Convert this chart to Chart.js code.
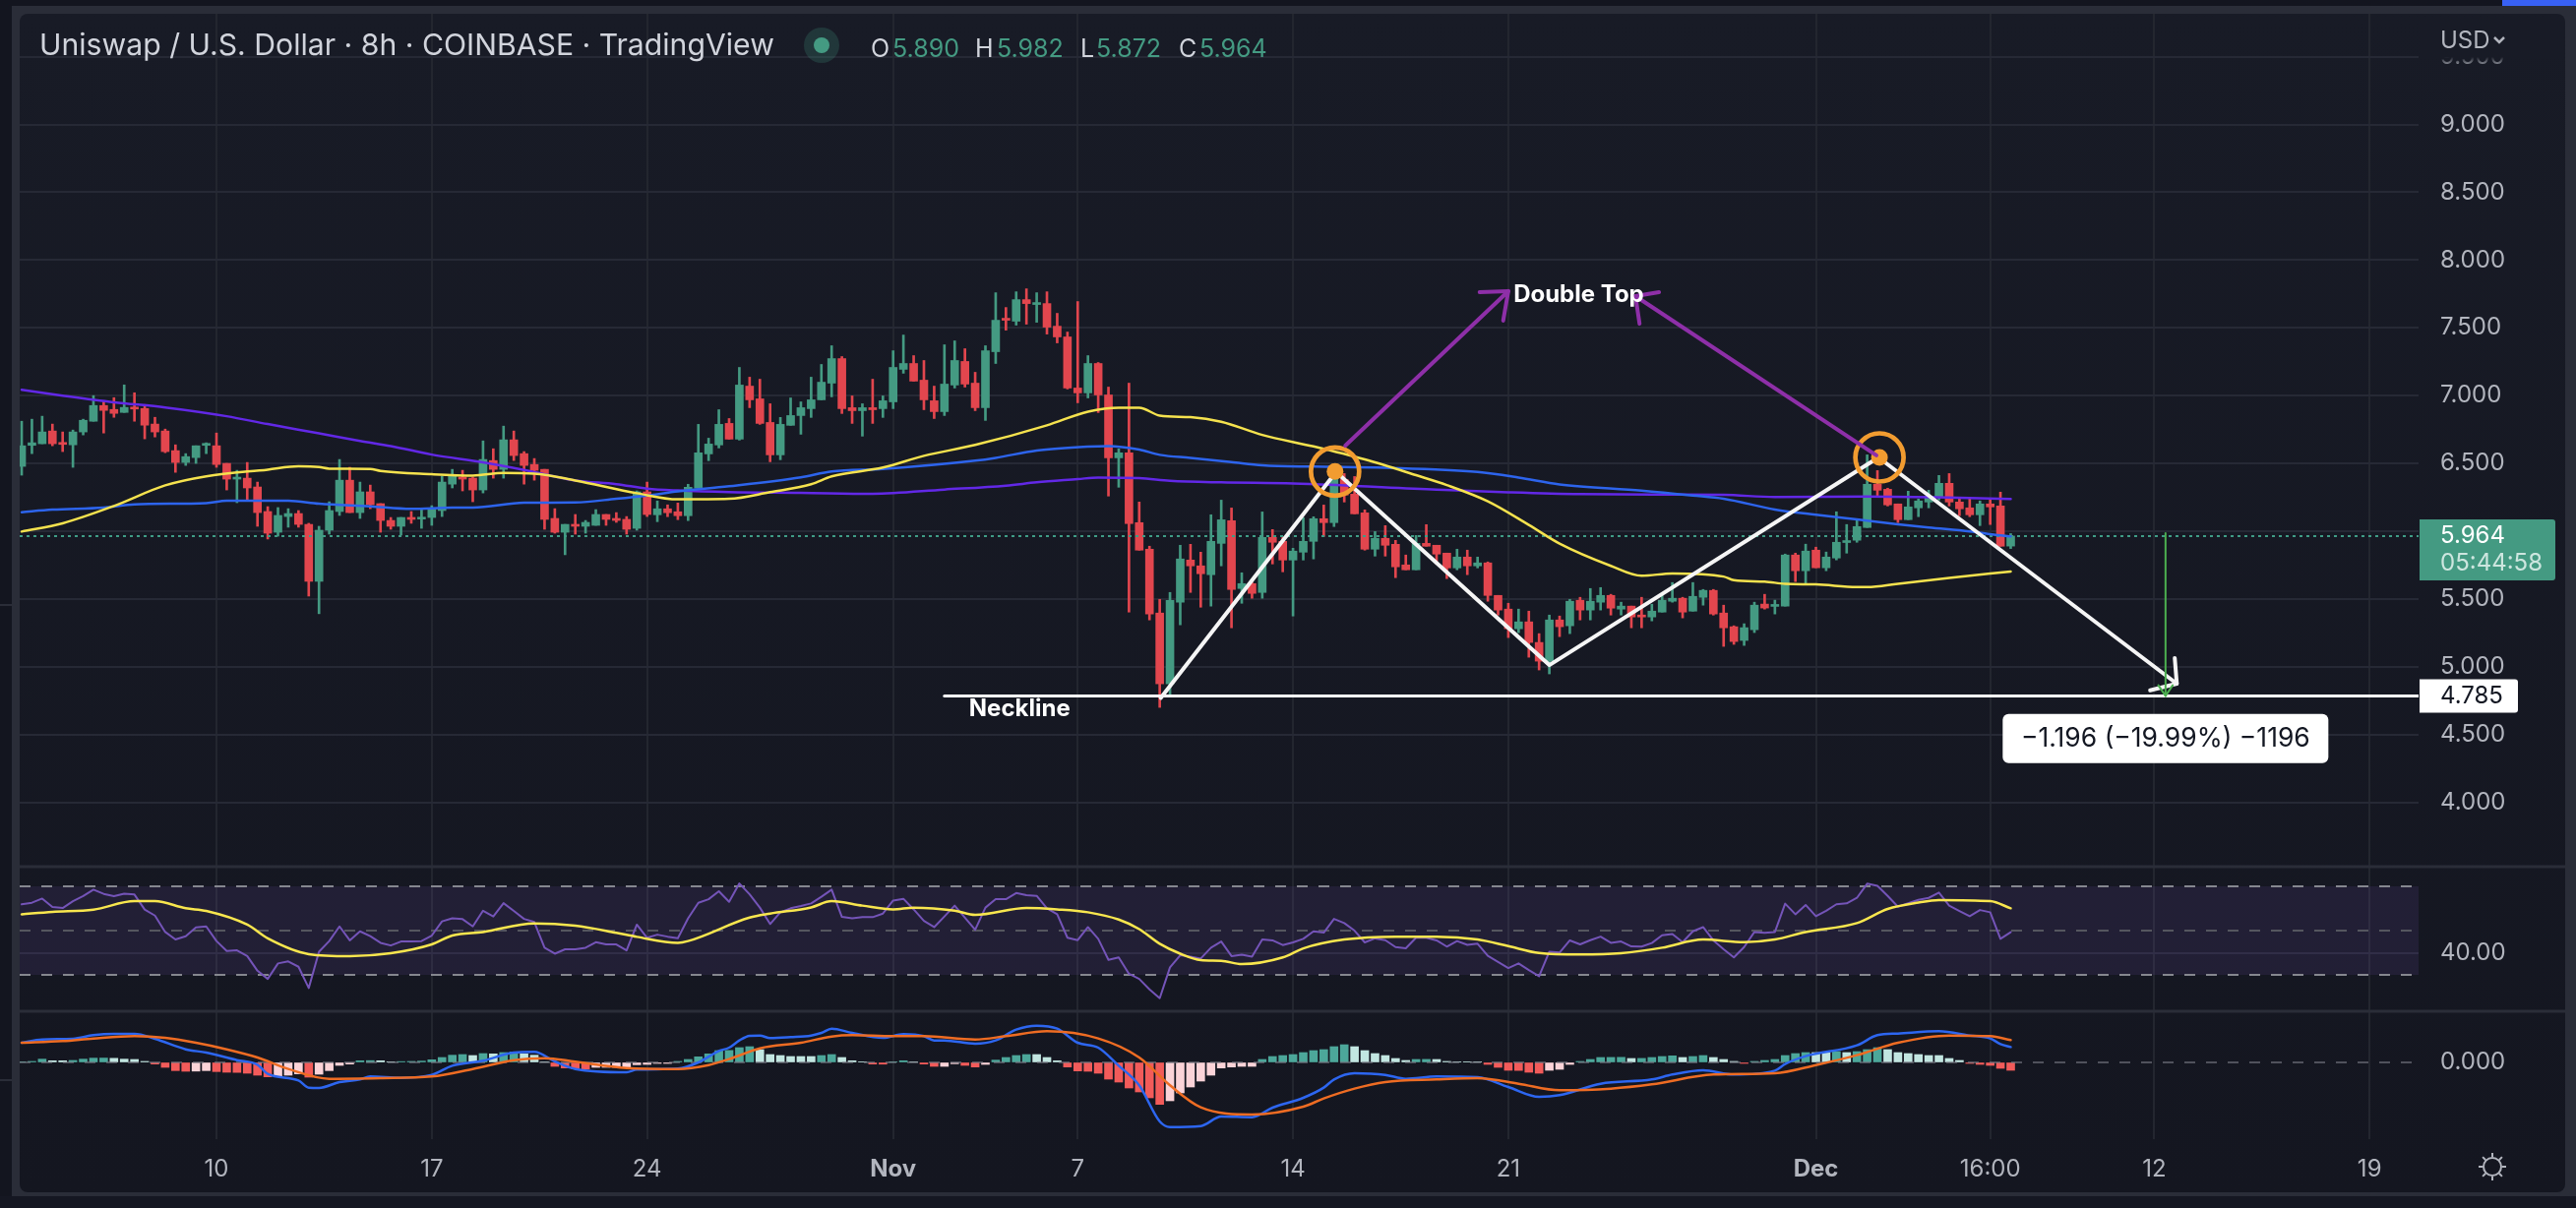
<!DOCTYPE html>
<html>
<head>
<meta charset="utf-8">
<title>Uniswap / U.S. Dollar</title>
<script src="https://cdn.jsdelivr.net/npm/chart.js@4"></script>
<style>
  html, body { margin: 0; padding: 0; background: #141620; }
  canvas { display: block; }
</style>
</head>
<body>
<canvas id="chart" width="2618" height="1228"></canvas>
<script>
/* CANDLES (8h bars, position in the array = bar number) */
const opens = [6.478,6.633,6.645,6.739,6.652,6.637,6.732,6.811,6.927,6.898,
6.876,6.913,6.905,6.790,6.739,6.594,6.507,6.543,6.633,6.630,
6.500,6.384,6.391,6.326,6.145,5.992,6.108,6.130,6.050,5.630,
6.007,6.145,6.376,6.137,6.290,6.203,6.079,6.036,6.101,6.089,
6.101,6.152,6.347,6.398,6.391,6.304,6.521,6.456,6.674,6.572,
6.492,6.456,6.094,5.992,6.050,6.036,6.043,6.123,6.094,6.087,
6.021,6.290,6.121,6.165,6.143,6.114,6.317,6.570,6.636,6.795,
6.679,7.070,6.976,6.802,6.563,6.781,6.853,6.904,6.969,7.092,
7.273,6.911,6.889,6.911,6.904,6.954,7.194,7.237,7.114,6.962,
6.882,7.078,7.252,7.092,6.911,7.324,7.563,7.549,7.708,7.672,
7.679,7.512,7.433,7.056,7.020,7.237,7.005,6.541,6.578,6.063,
5.867,5.396,4.874,5.476,5.787,5.744,5.679,5.910,6.077,5.577,
5.613,5.548,5.954,5.925,5.787,5.845,5.925,6.092,6.063,6.381,
6.273,6.135,5.867,5.947,5.903,5.751,5.715,5.910,5.896,5.838,
5.729,5.809,5.744,5.766,5.526,5.425,5.280,5.331,5.179,5.041,
5.345,5.302,5.490,5.418,5.476,5.526,5.425,5.447,5.374,5.367,
5.403,5.483,5.505,5.410,5.512,5.563,5.396,5.295,5.194,5.273,
5.462,5.445,5.447,5.824,5.708,5.860,5.730,5.802,5.916,5.933,
6.027,6.346,6.309,6.201,6.085,6.172,6.215,6.252,6.353,6.215,
6.172,6.121,6.201,6.186,5.890];
const highs = [6.811,6.826,6.848,6.790,6.732,6.746,6.826,7.000,6.963,6.985,
7.079,7.021,6.934,6.840,6.753,6.637,6.572,6.630,6.652,6.724,
6.500,6.449,6.507,6.362,6.181,6.174,6.166,6.152,6.058,6.036,
6.217,6.529,6.471,6.362,6.340,6.203,6.101,6.101,6.145,6.166,
6.188,6.405,6.456,6.449,6.398,6.666,6.608,6.775,6.739,6.587,
6.536,6.456,6.166,6.050,6.123,6.079,6.159,6.123,6.137,6.108,
6.297,6.362,6.223,6.194,6.208,6.346,6.788,6.686,6.896,6.831,
7.208,7.136,7.121,6.940,6.839,6.983,6.954,7.136,7.230,7.368,
7.288,6.998,6.940,7.121,6.998,7.331,7.447,7.295,7.259,7.070,
7.375,7.404,7.346,7.172,7.368,7.759,7.650,7.766,7.788,7.759,
7.766,7.607,7.469,7.694,7.295,7.244,7.063,6.607,7.092,6.215,
5.889,5.497,5.548,5.896,5.903,5.845,6.121,6.229,6.171,5.693,
5.621,6.142,6.012,5.954,5.874,6.099,6.106,6.193,6.497,6.425,
6.403,6.157,5.997,6.041,5.932,5.824,5.968,6.048,5.896,5.838,
5.867,5.860,5.809,5.773,5.526,5.468,5.425,5.410,5.244,5.381,
5.374,5.497,5.512,5.577,5.584,5.534,5.476,5.447,5.512,5.461,
5.541,5.621,5.512,5.621,5.570,5.570,5.454,5.302,5.317,5.476,
5.534,5.491,5.831,5.838,5.904,5.882,5.846,6.143,6.049,6.085,
6.563,6.447,6.317,6.201,6.295,6.237,6.302,6.411,6.425,6.244,
6.237,6.223,6.237,6.288,5.982];
const lows = [6.413,6.572,6.645,6.630,6.587,6.471,6.710,6.811,6.724,6.840,
6.876,6.811,6.681,6.695,6.579,6.434,6.485,6.500,6.572,6.471,
6.304,6.210,6.232,6.036,5.942,5.963,6.029,6.029,5.521,5.391,
5.978,6.116,6.137,6.094,6.166,5.992,6.014,5.971,6.058,6.021,
6.043,6.108,6.319,6.297,6.217,6.282,6.391,6.391,6.521,6.347,
6.376,6.014,5.985,5.826,5.978,5.985,6.043,6.043,6.065,5.978,
6.007,6.108,6.070,6.107,6.085,6.078,6.317,6.520,6.614,6.679,
6.672,6.911,6.788,6.512,6.527,6.781,6.715,6.839,6.969,6.991,
6.868,6.795,6.701,6.795,6.839,6.904,7.165,7.107,6.896,6.831,
6.853,7.056,7.063,6.889,6.817,7.237,7.483,7.520,7.527,7.541,
7.454,7.389,7.049,6.947,6.983,6.875,6.259,6.324,5.403,5.860,
5.345,4.700,4.795,5.309,5.548,5.439,5.447,5.744,5.287,5.468,
5.505,5.505,5.758,5.700,5.374,5.787,5.795,5.961,6.034,6.215,
6.128,5.860,5.816,5.816,5.657,5.715,5.715,5.889,5.758,5.650,
5.715,5.679,5.729,5.483,5.381,5.215,5.251,5.070,4.976,4.947,
5.222,5.244,5.345,5.345,5.418,5.381,5.381,5.287,5.287,5.338,
5.403,5.476,5.360,5.410,5.454,5.381,5.150,5.165,5.157,5.252,
5.425,5.389,5.447,5.628,5.614,5.730,5.708,5.788,5.838,5.918,
6.027,6.259,6.186,6.063,6.085,6.107,6.172,6.230,6.186,6.114,
6.107,6.041,6.049,5.889,5.872];
const closes = [6.630,6.652,6.732,6.645,6.640,6.732,6.818,6.927,6.891,6.869,
6.913,6.901,6.782,6.732,6.587,6.507,6.550,6.630,6.642,6.492,
6.384,6.393,6.319,6.137,5.985,6.116,6.130,6.050,5.630,6.007,
6.152,6.376,6.137,6.290,6.195,6.079,6.036,6.101,6.087,6.101,
6.161,6.362,6.405,6.384,6.304,6.529,6.456,6.674,6.558,6.485,
6.449,6.087,5.992,6.050,6.036,6.065,6.123,6.087,6.079,6.014,
6.290,6.123,6.165,6.136,6.114,6.324,6.578,6.643,6.788,6.679,
7.078,6.969,6.795,6.563,6.788,6.853,6.911,6.969,7.099,7.273,
6.904,6.889,6.911,6.896,6.962,7.208,7.237,7.107,6.969,6.882,
7.085,7.259,7.085,6.911,7.331,7.556,7.556,7.708,7.679,7.679,
7.505,7.433,7.056,7.020,7.237,7.005,6.541,6.578,6.056,5.860,
5.389,4.874,5.490,5.795,5.744,5.686,5.925,6.084,5.570,5.613,
5.541,5.954,5.918,5.787,5.853,5.925,6.092,6.063,6.444,6.266,
6.128,5.867,5.947,5.896,5.737,5.715,5.910,5.889,5.831,5.729,
5.809,5.744,5.766,5.526,5.418,5.280,5.331,5.179,5.041,5.345,
5.295,5.483,5.418,5.483,5.526,5.432,5.447,5.367,5.367,5.410,
5.490,5.505,5.403,5.519,5.563,5.389,5.287,5.186,5.288,5.454,
5.433,5.454,5.824,5.708,5.853,5.730,5.809,5.918,5.930,6.034,
6.346,6.302,6.194,6.085,6.179,6.223,6.259,6.353,6.215,6.165,
6.121,6.201,6.179,5.889,5.964];

/* MOVING AVERAGES (read at these bars) */
const maYellowBars = [0,4,9,14,18,24,27,29,30,34,35,40,44,47,50,54,60,64,69,73,77,79,84,88,93,100,104,107,109,111,114,117,121,126,131,136,139,143,147,150,155,158,161,166,167,170,172,175,179,180,183,188,194];
const maYellow = [5.997,6.058,6.186,6.338,6.405,6.454,6.478,6.473,6.461,6.459,6.444,6.420,6.410,6.430,6.425,6.374,6.280,6.235,6.239,6.288,6.346,6.404,6.469,6.556,6.636,6.781,6.882,6.911,6.911,6.853,6.841,6.807,6.710,6.625,6.529,6.413,6.340,6.220,6.046,5.908,5.744,5.671,5.688,5.665,5.638,5.628,5.611,5.607,5.587,5.587,5.611,5.655,5.703];
const maBlueBars = [0,3,8,11,18,20,26,29,34,38,42,44,49,54,58,61,64,69,76,79,84,93,95,99,104,106,109,111,114,118,121,126,133,142,146,150,158,163,166,171,175,179,183,186,190,193,194];
const maBlue = [6.140,6.159,6.174,6.198,6.207,6.224,6.224,6.203,6.183,6.164,6.174,6.174,6.210,6.212,6.239,6.263,6.293,6.331,6.397,6.440,6.459,6.520,6.541,6.595,6.624,6.628,6.602,6.563,6.541,6.510,6.486,6.476,6.468,6.437,6.396,6.345,6.299,6.263,6.239,6.160,6.121,6.087,6.051,6.027,5.998,5.969,5.962];
const maPurpleBars = [0,4,9,14,20,24,29,33,36,40,45,49,54,58,61,64,69,76,83,90,96,99,103,105,109,112,117,124,138,145,152,160,166,171,180,188,194];
const maPurple = [7.043,7.000,6.951,6.913,6.848,6.790,6.722,6.666,6.628,6.565,6.507,6.451,6.374,6.347,6.314,6.300,6.288,6.283,6.276,6.307,6.336,6.360,6.384,6.396,6.392,6.372,6.360,6.352,6.307,6.287,6.273,6.270,6.268,6.252,6.256,6.249,6.237];

/* RSI */
const rsi = [61.9,62.6,64.5,60.7,60.2,63.3,65.6,68.5,66.6,65.6,66.7,66.3,59.5,56.8,49.4,46.0,47.5,51.5,51.9,45.3,
40.8,41.1,38.5,31.9,28.2,35.2,36.1,33.7,24.1,40.5,45.3,51.9,45.6,49.7,47.5,44.5,43.3,45.1,45.1,45.3,
47.8,54.2,55.6,55.2,51.9,59.0,56.4,62.4,58.9,55.3,53.9,42.3,39.6,41.6,41.6,42.3,44.8,43.8,43.8,41.1,
52.7,46.8,48.2,47.3,46.6,55.6,62.6,64.2,67.8,63.0,71.3,66.4,60.4,53.0,58.3,60.1,61.1,62.3,65.3,68.5,
56.2,55.6,56.1,56.1,57.7,63.6,64.4,59.6,54.4,51.6,56.4,61.3,55.9,50.4,60.4,64.2,64.2,67.0,66.0,65.7,
60.1,57.4,46.8,45.7,51.6,46.3,36.8,37.9,30.5,28.2,23.5,19.5,33.4,38.9,38.3,37.4,42.3,45.1,38.5,39.1,
38.3,46.0,45.6,43.5,44.7,46.3,49.7,49.1,55.3,53.4,50.0,44.7,46.5,45.7,42.6,42.0,46.8,46.8,45.6,42.8,
45.3,43.6,44.1,38.6,35.9,33.1,35.2,32.2,29.4,40.5,40.1,45.6,43.8,45.7,47.3,44.5,45.1,42.9,42.8,44.4,
47.9,48.5,44.8,49.7,51.6,45.6,41.6,37.9,42.6,49.4,49.0,49.4,62.2,57.4,61.6,56.5,59.0,61.9,62.3,64.8,
71.2,70.2,65.7,60.8,62.4,63.9,64.8,67.2,61.3,58.9,56.5,59.3,58.3,46.3,49.3];
const rsiMaBars = [0,3,7,11,13,16,18,22,24,28,32,36,40,42,45,50,54,58,60,64,65,71,73,77,79,82,85,87,91,93,98,101,104,107,109,111,113,115,117,119,123,125,129,134,138,142,145,148,152,156,160,164,168,171,174,179,182,185,187,192,194];
const rsiMa = [57.4,58.5,59.5,63.3,63.3,60.1,58.9,52.7,46.5,39.4,38.5,39.8,43.8,47.8,49.4,53.3,52.2,49.0,47.2,44.5,45.3,55.9,57.7,60.5,63.3,61.3,59.6,60.4,59.0,57.1,60.2,59.6,58.3,55.0,50.7,44.1,39.6,36.7,36.4,34.9,37.9,42.0,46.0,47.3,47.3,46.0,43.0,39.9,39.2,39.8,42.3,46.0,44.8,46.0,49.4,53.4,59.8,62.7,63.8,63.3,60.1];
const rsiLevels = [70, 50, 30];
const rsiTicks = [40];

/* MACD */
const macdHist = [.004,.006,.02,.01,.01,.012,.02,.026,.0265,.025,.02,.018,.006,-.01,-.03,-.05,-.054,-.053,-.05,-.056,
-.06,-.061,-.066,-.078,-.088,-.084,-.078,-.07,-.09,-.072,-.05,-.018,-.01,.01,.011,.01,.004,.005,.006,.008,
.016,.03,.044,.048,.042,.054,.052,.06,.064,.052,.044,.004,-.024,-.034,-.04,-.041,-.03,-.03,-.03,-.03,
-.014,-.012,-.006,-.006,.006,.018,.034,.052,.072,.073,.09,.096,.078,.048,.042,.036,.036,.036,.042,.048,
.03,.01,.004,-.01,-.0105,.004,.01,.004,-.01,-.024,-.024,-.008,-.018,-.028,-.012,.014,.03,.042,.048,.048,
.03,.01,-.028,-.052,-.054,-.066,-.102,-.12,-.156,-.18,-.216,-.256,-.234,-.186,-.15,-.114,-.078,-.034,-.028,-.024,
-.024,.018,.036,.042,.048,.06,.072,.078,.096,.108,.096,.072,.054,.042,.024,.012,.018,.0185,.018,.006,
.004,.004,.004,-.012,-.03,-.048,-.049,-.06,-.066,-.048,-.042,-.012,.006,.018,.03,.0305,.031,.024,.0245,.03,
.036,.04,.03,.036,.042,.03,.018,.006,-.006,.006,.012,.018,.042,.054,.06,.06,.06,.066,.06,.066,
.078,.09,.078,.06,.054,.048,.042,.042,.024,.012,-.006,-.012,-.018,-.036,-.048];
const macdLineBars = [0,2,5,7,9,11,13,16,18,21,23,24,27,28,29,31,33,34,37,40,42,45,48,50,52,54,59,60,64,66,68,69,70,71,72,73,75,77,78,79,81,84,86,88,89,90,93,95,97,99,101,103,105,107,109,111,112,115,117,120,122,125,127,128,130,133,135,138,142,145,148,150,154,159,161,164,167,171,172,174,179,181,183,187,190,192,193,194];
const macdLine = [.12,.14,.144,.166,.174,.174,.144,.08,.06,.014,-.014,-.07,-.11,-.154,-.156,-.12,-.104,-.086,-.094,-.076,-.02,.01,.06,.064,.006,-.04,-.06,-.044,-.038,0,.07,.09,.134,.162,.164,.148,.154,.164,.18,.206,.18,.15,.172,.16,.134,.134,.114,.134,.2,.224,.206,.12,.09,-.02,-.14,-.36,-.394,-.388,-.33,-.334,-.276,-.216,-.154,-.104,-.066,-.076,-.1,-.086,-.09,-.15,-.21,-.2,-.13,-.104,-.074,-.048,-.074,-.05,-.01,.038,.104,.166,.176,.19,.164,.146,.112,.094];
const macdSignalBars = [0,4,7,11,14,17,20,23,26,30,35,40,44,48,51,54,59,64,67,69,72,76,79,81,85,88,93,96,100,105,109,112,115,120,125,127,130,133,138,142,146,150,155,159,165,171,175,179,183,188,192,194];
const macdSignal = [.12,.13,.146,.16,.15,.12,.08,.03,-.04,-.10,-.096,-.086,-.04,.014,.026,.004,-.034,-.04,-.016,.02,.086,.12,.158,.166,.16,.16,.14,.16,.19,.146,.03,-.14,-.274,-.318,-.27,-.22,-.16,-.12,-.104,-.096,-.13,-.17,-.16,-.134,-.074,-.066,-.016,.044,.12,.164,.16,.136];
const macdTicks = [0];

/* AXES */
const priceTicks = [9.5, 9, 8.5, 8, 7.5, 7, 6.5, 6, 5.5, 5, 4.5, 4];
const timeTickBars = [19, 40, 61, 85, 103, 124, 145, 175, 192, 208, 229];
const timeTickLabels = ["10", "17", "24", "Nov", "7", "14", "21", "Dec", "16:00", "12", "19"];
const boldTimeLabels = ["Nov", "Dec"];

/* DRAWINGS (bar number / price) */
const necklinePrice = 4.785;
const necklineStartBar = 90;
const zigzagBars = [111.1, 128.2, 149, 181.1, 210.2];
const zigzagPrices = [4.77, 6.437, 5.012, 6.544, 4.875];
const zigzagHeadBars = [210, 210.2, 207.6];
const zigzagHeadPrices = [5.064, 4.875, 4.826];
const arrowLeftBars = [129.1, 145];
const arrowLeftPrices = [6.631, 7.771];
const arrowLeftHeadBars = [142.2, 145, 144.5];
const arrowLeftHeadPrices = [7.764, 7.771, 7.553];
const arrowRightBars = [180.9, 157.4];
const arrowRightPrices = [6.559, 7.734];
const arrowRightHeadBars = [159.7, 157.4, 157.8];
const arrowRightHeadPrices = [7.763, 7.734, 7.53];
const circleBars = [128.1, 181.2];
const circlePrices = [6.44, 6.544];
const measureBars = [209.1, 209.1];
const measurePrices = [5.985, 4.785];
const measureHeadBars = [208.4, 209.1, 209.8];
const measureHeadPrices = [4.863, 4.785, 4.863];

/* BUILD POINTS */
const X_MIN = -0.194;
const X_MAX = 233.78;
const pts = (xs, ys) => xs.map((x, i) => ({ x: x, y: ys[i] }));
const GREEN = "#449a82";
const RED = "#e2464e";
const candleColor = opens.map((o, i) => closes[i] >= o ? GREEN : RED);
const histColor = macdHist.map((h, i) => {
  const prev = i ? macdHist[i - 1] : 0;
  if (h >= 0) return h > prev ? "#4ca79a" : "#c2e6e1";
  return h < prev ? "#f25b5a" : "#fbd3d8";
});

function line(yAxisID, data, color, width, order, extra) {
  return Object.assign({
    type: "line", yAxisID: yAxisID, data: data, borderColor: color, borderWidth: width,
    pointRadius: 0, fill: false, tension: 0, order: order,
    borderJoinStyle: "round", borderCapStyle: "round"
  }, extra || {});
}
const smooth = { cubicInterpolationMode: "monotone" };

const datasets = [
  /* candles */
  { type: "bar", yAxisID: "y", grouped: false, barThickness: 2, order: 21,
    data: lows.map((l, i) => ({ x: i, y: [l, highs[i]] })), backgroundColor: candleColor },
  { type: "bar", yAxisID: "y", grouped: false, barThickness: 8, minBarLength: 2, order: 20,
    data: opens.map((o, i) => ({ x: i, y: [o, closes[i]] })), backgroundColor: candleColor },
  /* moving averages */
  line("y", pts(maPurpleBars, maPurple), "#6228e6", 2.5, 12, smooth),
  line("y", pts(maBlueBars, maBlue), "#2d64ec", 2.5, 11, smooth),
  line("y", pts(maYellowBars, maYellow), "#f5e24e", 2.5, 10, smooth),
  /* last price */
  line("y", pts([X_MIN, X_MAX], [closes[closes.length - 1], closes[closes.length - 1]]), "#3f9c86", 2, 15,
    { borderDash: [3, 4], borderCapStyle: "butt" }),
  /* drawings */
  line("y", pts([necklineStartBar, X_MAX], [necklinePrice, necklinePrice]), "#ffffff", 3, 9),
  line("y", pts(zigzagBars, zigzagPrices), "#f5f5f5", 4, 8),
  line("y", pts(zigzagHeadBars, zigzagHeadPrices), "#f5f5f5", 4, 8),
  line("y", pts(measureBars, measurePrices), "#4caf50", 2, 7),
  line("y", pts(measureHeadBars, measureHeadPrices), "#4caf50", 2, 7),
  line("y", pts(circleBars, circlePrices), "transparent", 0, 6, {
    showLine: false, pointRadius: 24.5, pointBorderWidth: 4.7, pointBackgroundColor: "transparent", pointBorderColor: "#f29c30" }),
  line("y", pts(circleBars, circlePrices), "transparent", 0, 5, {
    showLine: false, pointRadius: 8.5, pointBorderWidth: 0, pointBackgroundColor: "#f29c30" }),
  line("y", pts(arrowLeftBars, arrowLeftPrices), "#8e2fa8", 4, 4),
  line("y", pts(arrowLeftHeadBars, arrowLeftHeadPrices), "#8e2fa8", 4, 4),
  line("y", pts(arrowRightBars, arrowRightPrices), "#8e2fa8", 4, 4),
  line("y", pts(arrowRightHeadBars, arrowRightHeadPrices), "#8e2fa8", 4, 4),
  /* RSI */
  line("yRsi", pts([X_MIN, X_MAX], [rsiLevels[0], rsiLevels[0]]), "transparent", 0, 40, {
    fill: { value: rsiLevels[2] }, backgroundColor: "rgba(126,87,194,0.13)" }),
  line("yRsi", pts([X_MIN, X_MAX], [rsiLevels[0], rsiLevels[0]]), "#85878f", 2, 35, { borderDash: [11, 11], borderCapStyle: "butt" }),
  line("yRsi", pts([X_MIN, X_MAX], [rsiLevels[1], rsiLevels[1]]), "#55565f", 2, 35, { borderDash: [11, 11], borderCapStyle: "butt" }),
  line("yRsi", pts([X_MIN, X_MAX], [rsiLevels[2], rsiLevels[2]]), "#85878f", 2, 35, { borderDash: [11, 11], borderCapStyle: "butt" }),
  line("yRsi", rsi.map((v, i) => ({ x: i, y: v })), "#7454b8", 2, 31),
  line("yRsi", pts(rsiMaBars, rsiMa), "#f8e64e", 2.5, 30, smooth),
  /* MACD */
  { type: "bar", yAxisID: "yMacd", grouped: false, barThickness: 8, order: 53,
    data: macdHist.map((h, i) => ({ x: i, y: h })), backgroundColor: histColor },
  line("yMacd", pts([X_MIN, X_MAX], [0, 0]), "rgba(130,132,142,0.55)", 2, 52, { borderDash: [11, 11], borderCapStyle: "butt" }),
  line("yMacd", pts(macdLineBars, macdLine), "#2d66f0", 2.5, 51, smooth),
  line("yMacd", pts(macdSignalBars, macdSignal), "#ee6c23", 2.5, 50, smooth)
];

/* FRAME, LABELS AND PILLS */
const UI_FONT = "Inter";
const TEXT = "#b2b5be";
function txt(ctx, s, x, y, font, color, align) {
  ctx.font = font;
  ctx.fillStyle = color;
  ctx.textAlign = align || "left";
  ctx.textBaseline = "middle";
  ctx.fillText(s, x, y);
}

const framePlugin = {
  id: "frame",
  beforeDraw(chart) {
    const ctx = chart.ctx;
    ctx.save();
    ctx.fillStyle = "#13151f";
    ctx.fillRect(0, 0, 2618, 1228);
    ctx.fillStyle = "#2a2d38";
    ctx.fillRect(12, 6, 2606, 1210);
    ctx.fillStyle = "#3861f5";
    ctx.fillRect(2543, 0, 75, 6);
    const g = ctx.createLinearGradient(0, 14, 0, 1212);
    g.addColorStop(0, "#181b26");
    g.addColorStop(1, "#141620");
    ctx.fillStyle = g;
    ctx.beginPath();
    ctx.roundRect(20, 14, 2587, 1198, 8);
    ctx.fill();
    ctx.fillStyle = "#151722";
    ctx.fillRect(0, 1216, 2618, 12);
    ctx.fillStyle = "#2a2d38";
    ctx.fillRect(0, 614, 12, 2);
    ctx.fillRect(0, 1097, 12, 2);
    ctx.restore();
  },
  afterDraw(chart) {
    const ctx = chart.ctx;
    const y = chart.scales.y;
    const x = chart.scales.x;
    const last = closes[closes.length - 1];
    ctx.save();

    /* pane separators */
    ctx.fillStyle = "#2a2d38";
    ctx.fillRect(20, chart.scales.yRsi.top - 1.5, 2587, 3);
    ctx.fillRect(20, chart.scales.yMacd.top - 1.5, 2587, 3);

    /* faded top of the price scale */
    const fade = ctx.createLinearGradient(0, 58, 0, 68);
    fade.addColorStop(0, "#181b26");
    fade.addColorStop(1, "rgba(24,27,38,0)");
    ctx.fillStyle = "#181b26";
    ctx.fillRect(2460, 20, 146, 38);
    ctx.fillStyle = fade;
    ctx.fillRect(2460, 58, 146, 10);
    txt(ctx, "USD", 2480, 42, "24px " + UI_FONT, TEXT);
    ctx.strokeStyle = TEXT;
    ctx.lineWidth = 2.5;
    ctx.beginPath();
    ctx.moveTo(2535, 38);
    ctx.lineTo(2540, 43);
    ctx.lineTo(2545, 38);
    ctx.stroke();

    /* legend row */
    txt(ctx, "Uniswap / U.S. Dollar · 8h · COINBASE · TradingView", 40, 47, "30.2px " + UI_FONT, "#d1d4dc");
    ctx.fillStyle = "rgba(68,154,130,0.22)";
    ctx.beginPath();
    ctx.arc(835, 46, 18, 0, Math.PI * 2);
    ctx.fill();
    ctx.fillStyle = GREEN;
    ctx.beginPath();
    ctx.arc(835, 46, 8, 0, Math.PI * 2);
    ctx.fill();
    const row = ["O", "H", "L", "C"];
    const rowVals = [opens[194], highs[194], lows[194], closes[194]];
    const rowX = [885, 991, 1098, 1198];
    const rowValX = [907, 1013, 1114, 1219];
    row.forEach((s, i) => {
      txt(ctx, s, rowX[i], 50, "25px " + UI_FONT, "#d1d4dc");
      txt(ctx, rowVals[i].toFixed(3), rowValX[i], 50, "25px " + UI_FONT, GREEN);
    });

    /* text on the drawings */
    txt(ctx, "Double Top", x.getPixelForValue(145.5), y.getPixelForValue(7.74), "bold 24px " + UI_FONT, "#ffffff");
    txt(ctx, "Neckline", x.getPixelForValue(92.4), y.getPixelForValue(4.69), "bold 24px " + UI_FONT, "#ffffff");

    /* measure label */
    const mx = x.getPixelForValue(measureBars[0]);
    const my = y.getPixelForValue(4.47);
    ctx.fillStyle = "#ffffff";
    ctx.beginPath();
    ctx.roundRect(mx - 165.5, my - 25, 331, 50, 6);
    ctx.fill();
    txt(ctx, "−1.196 (−19.99%) −1196", mx, my, "26.5px " + UI_FONT, "#131722", "center");

    /* price pills */
    const py = y.getPixelForValue(last);
    ctx.fillStyle = GREEN;
    ctx.beginPath();
    ctx.roundRect(2459, py - 17, 138, 62, [0, 3, 3, 0]);
    ctx.fill();
    txt(ctx, last.toFixed(3), 2480, py, "24px " + UI_FONT, "#ffffff");
    txt(ctx, "05:44:58", 2480, py + 28, "24px " + UI_FONT, "#cde6df");
    const ny = y.getPixelForValue(necklinePrice);
    ctx.fillStyle = "#ffffff";
    ctx.beginPath();
    ctx.roundRect(2459, ny - 17, 100, 34, [0, 3, 3, 0]);
    ctx.fill();
    txt(ctx, necklinePrice.toFixed(3), 2480, ny, "24px " + UI_FONT, "#131722");

    /* settings icon */
    ctx.strokeStyle = TEXT;
    ctx.lineWidth = 2;
    ctx.beginPath();
    ctx.arc(2533, 1186, 9, 0, Math.PI * 2);
    for (let a = 0; a < 8; a++) {
      const t = a * Math.PI / 4;
      ctx.moveTo(2533 + Math.cos(t) * 10, 1186 + Math.sin(t) * 10);
      ctx.lineTo(2533 + Math.cos(t) * 14, 1186 + Math.sin(t) * 14);
    }
    ctx.stroke();
    ctx.restore();
  }
};

/* RENDER CHART */
const noPadding = s => { s.paddingLeft = 0; s.paddingRight = 0; s.paddingTop = 0; s.paddingBottom = 0; };
const fixWidth = s => { s.width = 160; noPadding(s); };
const yAxisBase = {
  position: "right",
  stack: "panes",
  afterFit: fixWidth,
  border: { display: false },
  grid: { color: "#262935", lineWidth: 2, drawTicks: false }
};
const tickStyle = { color: TEXT, font: { family: UI_FONT, size: 24 }, padding: 22, autoSkip: false };

new Chart(document.getElementById("chart"), {
  data: { datasets: datasets },
  plugins: [framePlugin],
  options: {
    responsive: false,
    animation: false,
    devicePixelRatio: 1,
    layout: { autoPadding: false, padding: { left: 20, top: 14, right: 0, bottom: 0 } },
    plugins: { legend: { display: false }, tooltip: { enabled: false } },
    scales: {
      x: {
        type: "linear",
        offset: false,
        min: X_MIN,
        max: X_MAX,
        afterBuildTicks: s => { s.ticks = timeTickBars.map(v => ({ value: v })); },
        afterFit: s => { s.height = 70; noPadding(s); },
        border: { display: false },
        grid: { color: "#23262f", lineWidth: 2, drawTicks: false, offset: false },
        ticks: {
          color: TEXT,
          padding: 16,
          maxRotation: 0,
          autoSkip: false,
          callback: v => timeTickLabels[timeTickBars.indexOf(v)],
          font: ctx => {
            const label = ctx.tick ? timeTickLabels[timeTickBars.indexOf(ctx.tick.value)] : "";
            return { family: UI_FONT, size: 24, weight: boldTimeLabels.includes(label) ? "bold" : "normal" };
          }
        }
      },
      y: Object.assign({}, yAxisBase, {
        type: "linear", stackWeight: 867, weight: 1, min: 3.525, max: 9.817,
        afterBuildTicks: s => { s.ticks = priceTicks.map(v => ({ value: v })); },
        ticks: Object.assign({}, tickStyle, { callback: v => v.toFixed(3) })
      }),
      yRsi: Object.assign({}, yAxisBase, {
        type: "linear", stackWeight: 147, weight: 2, min: 13.6, max: 78.9,
        afterBuildTicks: s => { s.ticks = rsiTicks.map(v => ({ value: v })); },
        ticks: Object.assign({}, tickStyle, { callback: v => v.toFixed(2) })
      }),
      yMacd: Object.assign({}, yAxisBase, {
        type: "linear", stackWeight: 130, weight: 3, min: -0.468, max: 0.312,
        afterBuildTicks: s => { s.ticks = macdTicks.map(v => ({ value: v })); },
        grid: { color: "transparent", drawTicks: false },
        ticks: Object.assign({}, tickStyle, { callback: v => v.toFixed(3) })
      })
    }
  }
});
</script>
</body>
</html>
